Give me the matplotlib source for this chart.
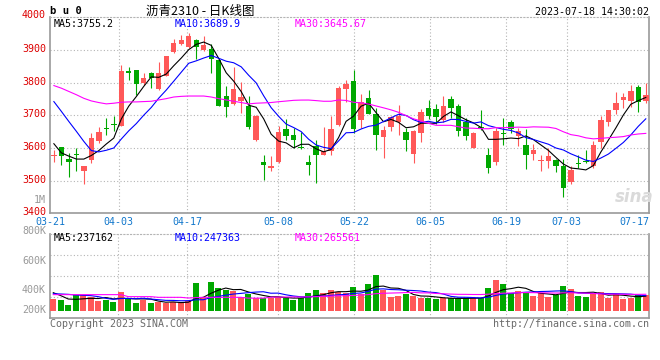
import matplotlib
matplotlib.use('Agg')
import matplotlib.pyplot as plt
import matplotlib.transforms as mtrans
import numpy as np
import pandas as pd

# ---------------- data ----------------
dates = ['03-21', '03-22', '03-23', '03-24', '03-27', '03-28', '03-29', '03-30', '03-31',
         '04-03', '04-04', '04-06', '04-07', '04-10', '04-11', '04-12', '04-13', '04-14',
         '04-17', '04-18', '04-19', '04-20', '04-21', '04-24', '04-25', '04-26', '04-27', '04-28',
         '05-04', '05-05', '05-08', '05-09', '05-10', '05-11', '05-12', '05-15', '05-16', '05-17',
         '05-18', '05-19', '05-22', '05-23', '05-24', '05-25', '05-26', '05-29', '05-30', '05-31',
         '06-01', '06-02', '06-05', '06-06', '06-07', '06-08', '06-09', '06-12', '06-13', '06-14',
         '06-15', '06-16', '06-19', '06-20', '06-21', '06-26', '06-27', '06-28', '06-29', '06-30',
         '07-03', '07-04', '07-05', '07-06', '07-07', '07-10', '07-11', '07-12', '07-13', '07-14',
         '07-17', '07-18']

opens = [3575, 3602, 3566, 3583, 3529, 3562, 3620, 3658, 3673, 3668,
         3836, 3839, 3798, 3829, 3781, 3821, 3893, 3918, 3910, 3931,
         3900, 3902, 3870, 3760, 3734, 3745, 3729, 3623, 3557, 3540,
         3556, 3659, 3641, 3603, 3556, 3607, 3580, 3590, 3671, 3781,
         3805, 3686, 3753, 3705, 3633, 3664, 3681, 3649, 3582, 3646,
         3722, 3719, 3686, 3750, 3729, 3681, 3600, 3662, 3577, 3556,
         3646, 3679, 3636, 3610, 3583, 3561, 3559, 3564, 3546, 3495,
         3552, 3561, 3544, 3617, 3678, 3715, 3748, 3745, 3788, 3744]
highs = [3595, 3602, 3585, 3600, 3544, 3646, 3663, 3692, 3697, 3854,
         3847, 3839, 3831, 3834, 3864, 3880, 3934, 3946, 3951, 3933,
         3944, 3918, 3870, 3790, 3847, 3801, 3760, 3702, 3577, 3575,
         3668, 3689, 3661, 3648, 3577, 3625, 3664, 3697, 3790, 3809,
         3839, 3766, 3778, 3722, 3668, 3697, 3732, 3661, 3656, 3719,
         3748, 3735, 3760, 3760, 3735, 3692, 3648, 3717, 3600, 3661,
         3692, 3686, 3661, 3658, 3613, 3580, 3600, 3566, 3566, 3546,
         3577, 3595, 3622, 3697, 3717, 3770, 3768, 3793, 3793, 3798]
lows = [3556, 3547, 3512, 3529, 3490, 3554, 3615, 3641, 3651, 3666,
        3809, 3763, 3793, 3783, 3778, 3819, 3890, 3915, 3905, 3872,
        3898, 3831, 3729, 3694, 3732, 3707, 3658, 3622, 3501, 3529,
        3554, 3623, 3600, 3597, 3516, 3493, 3578, 3580, 3666, 3742,
        3646, 3661, 3704, 3595, 3570, 3651, 3641, 3590, 3554, 3617,
        3689, 3674, 3681, 3692, 3636, 3623, 3600, 3656, 3524, 3549,
        3610, 3646, 3607, 3537, 3564, 3531, 3539, 3526, 3450, 3490,
        3539, 3554, 3539, 3600, 3668, 3705, 3722, 3725, 3709, 3739]
closes = [3577, 3575, 3556, 3578, 3544, 3632, 3650, 3657, 3669, 3836,
          3829, 3795, 3814, 3814, 3829, 3880, 3922, 3931, 3943, 3910,
          3915, 3872, 3730, 3724, 3781, 3756, 3663, 3699, 3547, 3546,
          3650, 3636, 3623, 3601, 3547, 3580, 3590, 3659, 3783, 3796,
          3659, 3742, 3705, 3639, 3656, 3695, 3697, 3623, 3653, 3710,
          3697, 3694, 3729, 3722, 3651, 3636, 3646, 3660, 3539, 3651,
          3644, 3658, 3651, 3580, 3595, 3562, 3575, 3544, 3478, 3534,
          3550, 3558, 3610, 3686, 3715, 3737, 3756, 3775, 3742, 3763]
volumes = [191000, 175000, 96000, 255000, 255000, 229000, 160000, 175000, 144000, 303000,
           213000, 128000, 175000, 128000, 149000, 122000, 149000, 122000, 160000, 447000,
           213000, 463000, 372000, 335000, 319000, 229000, 266000, 213000, 213000, 213000,
           229000, 202000, 175000, 213000, 292000, 335000, 282000, 335000, 298000, 292000,
           383000, 266000, 431000, 574000, 335000, 229000, 245000, 266000, 245000, 213000,
           213000, 186000, 202000, 202000, 202000, 213000, 202000, 202000, 372000, 494000,
           431000, 282000, 319000, 282000, 245000, 282000, 229000, 255000, 399000, 351000,
           239000, 229000, 282000, 298000, 213000, 271000, 191000, 213000, 255000, 255000]

# moving-average values before enough history is visible
ma5_head = [3613, 3585, 3575, 3566]
ma10_head = [3742, 3712, 3681, 3651, 3620, 3592, 3588, 3593, 3600]
ma30_head = [3791, 3783, 3773, 3763, 3752, 3744, 3739, 3735, 3737, 3740,
             3741, 3741, 3742, 3743, 3747, 3751, 3756, 3758, 3759, 3759,
             3759, 3756, 3751, 3747, 3743, 3739, 3735, 3737, 3738]
vma5_head = [292000, 245000, 191000, 186000]
vma10_head = [276000, 271000, 266000, 255000, 250000, 245000, 229000, 202000, 186000]
vma30_head = [261000, 261000, 261000, 261000, 261000, 261000, 261000, 261000, 261000, 261000,
              229000, 229000, 229000, 229000, 218000, 218000, 218000, 218000, 207000, 213000,
              218000, 218000, 218000, 218000, 218000, 218000, 205000, 205000, 205000]

price_ticks = [3400, 3500, 3600, 3700, 3800, 3900]
label_dates = ['03-21', '04-03', '04-17', '05-08', '05-22', '06-05', '06-19', '07-03', '07-17']
vol_labels = ['800K', '600K', '400K', '200K']

title = '沥青2310 - 日K线图'
code = 'b u 0'
stamp = '2023-07-18 14:30:02'
ma_price_txt = ['MA5:3755.2', 'MA10:3689.9', 'MA30:3645.67']
ma_vol_txt = ['MA5:237162', 'MA10:247363', 'MA30:265561']

# ---------------- style / layout ----------------
RED = '#ff5858'
GREEN = '#00a800'
MA_COLORS = ['#000000', '#0000ff', '#ff00ff']
GRID = '#b4b4b4'
BORDER = '#9a9a9a'
MONO = 'DejaVu Sans Mono'
W, H = 660, 360

def fx(px):
    return px / W

def fy(py):
    return 1 - py / H

X0, X1 = 50.5, 649.0
MAIN_TOP, MAIN_BOT = 17.3, 213.3
VOL_TOP, VOL_BOT = 234.3, 318.3
CX0, STEP = 53.3, 7.5          # first candle centre, candle spacing (px)
GRID_STEP = 7.597              # Sina draws its date grid with a slightly wider step
VOL_PX = 15950.0               # volume per pixel
VOL_BASE = 311.0               # pixel row of zero volume

fig = plt.figure(figsize=(6.6, 3.6), dpi=100)
fig.patch.set_facecolor('white')
ax = fig.add_axes([fx(X0), fy(MAIN_BOT), (X1 - X0) / W, (MAIN_BOT - MAIN_TOP) / H])
axv = fig.add_axes([fx(X0), fy(VOL_BOT), (X1 - X0) / W, (VOL_BOT - VOL_TOP) / H])

xlim = ((X0 - CX0) / STEP, (X1 - CX0) / STEP)
n = len(closes)
idx = np.arange(n)
o = np.array(opens, float)
c = np.array(closes, float)
hi = np.array(highs, float)
lo = np.array(lows, float)
v = np.array(volumes, float)
up = c >= o
cols = np.where(up, RED, GREEN)

def grid_pos(k):
    return (k - 9) * GRID_STEP / STEP + (118.3 - CX0) / STEP

def moving(arr, w, head):
    m = pd.Series(arr).rolling(w).mean().to_numpy()
    m[:len(head)] = head
    return m

# ---------- common frame ----------
for a in (ax, axv):
    a.set_xlim(*xlim)
    a.set_facecolor('white')
    for s in ('left', 'right', 'bottom'):
        a.spines[s].set_color(BORDER)
        a.spines[s].set_linewidth(1.2)
    a.spines['top'].set_color(GRID)
    a.spines['top'].set_linestyle((0, (1, 2)))
    a.spines['top'].set_linewidth(0.8)
    for d in label_dates[1:-1]:
        a.axvline(grid_pos(dates.index(d)), color=GRID, lw=0.8, ls=(0, (1, 2)), zorder=0)

# ---------- price panel ----------
ax.set_ylim(3400, 4000)
for p in price_ticks[1:]:
    ax.axhline(p, color=GRID, lw=0.8, ls=(0, (1, 2)), zorder=0)

ax.vlines(idx, lo, hi, colors=cols, lw=0.8, zorder=2)
body = np.maximum(np.abs(c - o), 3.0)
ax.bar(idx, body, bottom=np.minimum(o, c), width=0.72, color=cols, linewidth=0, zorder=3)

ma_p = [moving(c, 5, ma5_head), moving(c, 10, ma10_head), moving(c, 30, ma30_head)]
for m, col in zip(ma_p, MA_COLORS):
    ax.plot(idx, m, color=col, lw=0.8, zorder=4)

ax.set_yticks(price_ticks)
ax.set_yticklabels([str(t) for t in price_ticks], color='#dd0000', fontsize=7.2, family=MONO)
ax.tick_params(axis='y', length=0, pad=3.2)
up_shift = mtrans.ScaledTranslation(0, 2 / 100, fig.dpi_scale_trans)
for lab in ax.get_yticklabels():
    lab.set_transform(lab.get_transform() + up_shift)

tick_x = [grid_pos(dates.index(d)) for d in label_dates[:-1]] + [xlim[1] - 0.01]
ax.set_xticks(tick_x)
ax.set_xticklabels(label_dates, color='#1177cc', fontsize=7.2, family=MONO)
ax.tick_params(axis='x', length=0, pad=3.0)
ax.get_xticklabels()[-1].set_ha('right')

# ---------- volume panel ----------
axv.set_ylim(-(VOL_BOT - VOL_BASE) * VOL_PX, (VOL_BASE - VOL_TOP) * VOL_PX)
for f in (0.25, 0.5, 0.75):
    axv.plot([0, 1], [f, f], transform=axv.transAxes, color=GRID, lw=0.8,
             ls=(0, (1, 2)), zorder=0)
axv.bar(idx, v, width=0.8, color=cols, linewidth=0, zorder=3)
ma_v = [moving(v, 5, vma5_head), moving(v, 10, vma10_head), moving(v, 30, vma30_head)]
for m, col in zip(ma_v, MA_COLORS):
    axv.plot(idx, m, color=col, lw=0.8, zorder=4)
axv.set_xticks([])
axv.set_yticks([])

# ---------- texts ----------
fs = 7.2
fig.text(fx(50), fy(11), code, fontsize=7.6, weight='bold', family=MONO, va='center', ha='left')
fig.text(fx(200), fy(11), title, fontsize=9, family=['Noto Sans CJK SC', 'DejaVu Sans'],
         va='center', ha='center')
fig.text(fx(649), fy(12), stamp, fontsize=fs, family=MONO, va='center', ha='right')
fig.text(fx(46), fy(15.5), '4000', fontsize=fs, family=MONO, color='#dd0000', va='center', ha='right')
fig.text(fx(46), fy(200), '1M', fontsize=fs, family=MONO, color='#999999', va='center', ha='right')
for t, py in zip(vol_labels, [230.7, 260.7, 290, 310]):
    fig.text(fx(46), fy(py), t, fontsize=fs, family=MONO, color='#999999', va='center', ha='right')
for t, px, col in zip(ma_price_txt, [54, 175, 295], MA_COLORS):
    fig.text(fx(px), fy(23.7), t, fontsize=fs, family=MONO, color=col, va='center', ha='left')
for t, px, col in zip(ma_vol_txt, [54, 175, 295], MA_COLORS):
    fig.text(fx(px), fy(238.3), t, fontsize=fs, family=MONO, color=col, va='center', ha='left')
fig.text(fx(50), fy(324), 'Copyright 2023 SINA.COM', fontsize=fs, family=MONO, color='#6a6a6a',
         va='center', ha='left')
fig.text(fx(649), fy(324), 'http://finance.sina.com.cn', fontsize=fs, family=MONO, color='#6a6a6a',
         va='center', ha='right')
fig.text(fx(634), fy(197), 'sina', fontsize=12, style='italic', weight='bold', color='#dadada',
         va='center', ha='center', zorder=0)

fig.savefig('out.png', dpi=100, facecolor='white')
